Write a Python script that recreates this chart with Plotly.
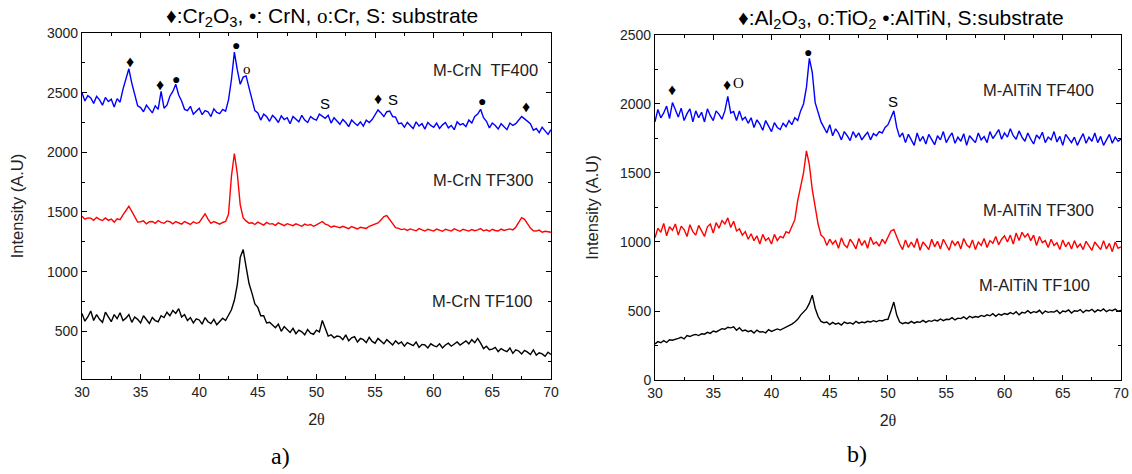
import plotly.graph_objects as go

# ---------------- data ----------------
two_theta = [round(30 + 0.25 * i, 2) for i in range(161)]

crn_tf400 = [
    2500, 2430, 2475, 2455, 2410, 2470, 2440, 2395,
    2460, 2425, 2445, 2380, 2450, 2420, 2530, 2610,
    2700, 2580, 2490, 2390, 2375, 2340, 2395, 2360,
    2330, 2390, 2360, 2510, 2370, 2395, 2470, 2510,
    2570, 2480, 2430, 2360, 2350, 2385, 2320, 2345,
    2370, 2315, 2350, 2340, 2300, 2365, 2335, 2325,
    2360, 2345, 2440, 2610, 2840, 2690, 2570, 2630,
    2640, 2540, 2440, 2350, 2330, 2270, 2320, 2300,
    2260, 2310, 2285, 2250, 2305, 2275, 2290, 2240,
    2300, 2280, 2255, 2310, 2270, 2250, 2300, 2280,
    2270, 2320, 2300, 2285, 2310, 2245, 2290, 2260,
    2235, 2275, 2250, 2215, 2270, 2245, 2225, 2255,
    2220, 2270, 2250, 2275, 2310, 2355, 2330, 2300,
    2340, 2345, 2300, 2295, 2240, 2245, 2210, 2250,
    2225, 2200, 2255, 2220, 2240, 2195, 2250, 2225,
    2210, 2245, 2200, 2230, 2250, 2205, 2225, 2190,
    2255, 2230, 2240, 2215, 2270, 2245, 2300, 2320,
    2360, 2290, 2260, 2205, 2245, 2225, 2195, 2240,
    2215, 2190, 2245, 2225, 2240, 2270, 2300, 2280,
    2260, 2240, 2185, 2200, 2165, 2210, 2180, 2150,
    2190,
]

crn_tf300 = [
    1465, 1440, 1450, 1448, 1430, 1455, 1438, 1428,
    1450, 1430, 1440, 1415, 1442, 1435, 1475, 1515,
    1548, 1505, 1455, 1415, 1418, 1425, 1400, 1418,
    1420, 1405, 1428, 1412, 1405, 1425, 1418, 1400,
    1420, 1408, 1398, 1420, 1410, 1395, 1418, 1405,
    1412, 1445, 1485, 1440, 1405, 1420, 1410, 1398,
    1412, 1420, 1480, 1800, 1990, 1820, 1560, 1450,
    1425, 1405, 1410, 1395, 1415, 1400, 1390, 1412,
    1398, 1402, 1388, 1408, 1395, 1385, 1402, 1390,
    1385, 1400, 1392, 1380, 1398, 1388, 1395, 1380,
    1392, 1405, 1420, 1398, 1390, 1372, 1382, 1375,
    1368, 1380, 1372, 1360, 1378, 1365, 1358, 1372,
    1365, 1362, 1380, 1388, 1402, 1408, 1432, 1462,
    1470, 1438, 1398, 1368, 1362, 1352, 1358, 1345,
    1358, 1350, 1342, 1360, 1348, 1340, 1355, 1346,
    1340, 1356, 1348, 1338, 1355, 1345, 1340, 1358,
    1346, 1338, 1355, 1348, 1340, 1352, 1343, 1350,
    1360, 1342, 1350, 1338, 1355, 1345, 1340, 1356,
    1345, 1352, 1358, 1350, 1372, 1412, 1452, 1438,
    1398, 1365, 1342, 1340, 1348, 1330, 1338, 1332,
    1330,
]

crn_tf100 = [
    650, 585, 620, 670, 590, 640, 600, 575,
    660, 615, 580, 640, 605, 655, 590, 610,
    640, 575, 620, 600, 570, 630, 595, 565,
    615, 590, 580, 630, 615, 660, 630, 675,
    650, 690, 620, 640, 590, 615, 570, 605,
    595, 560, 615, 580, 565, 600, 555, 585,
    610, 590, 640, 680, 760, 890, 1120, 1185,
    1040, 900, 820, 730, 700, 630, 630, 570,
    575, 555, 530, 560, 500, 540, 515, 490,
    525, 480, 510, 495, 470, 515, 485, 475,
    510, 495, 590, 530, 460, 470, 445, 460,
    455, 430, 470, 420, 445, 455, 410, 440,
    430, 405, 450, 415, 400, 440, 420, 395,
    430, 405, 385, 420, 395, 410, 375, 405,
    395, 380, 410, 365, 390, 385, 360, 395,
    380, 370, 395, 360, 385, 400, 375, 390,
    410, 385, 400, 420, 395, 430, 405, 440,
    400, 355, 375, 345, 350, 365, 330, 355,
    340, 330, 360, 315, 345, 335, 310, 340,
    325, 305, 345, 300, 320, 310, 290, 325,
    305,
]

altin_tf400 = [
    1870, 1960, 1900, 1935, 1985, 1895, 2010, 1950,
    1905, 1970, 1880, 1930, 1965, 1870, 1950, 1900,
    1940, 1870, 1965, 1915, 1880, 1950, 1925, 1890,
    1950, 2055, 1935, 1945, 1880, 1950, 1885, 1905,
    1860, 1900, 1830, 1885, 1855, 1810, 1880, 1840,
    1800, 1865, 1830, 1815, 1860, 1835, 1880, 1850,
    1900, 1880, 1950, 2000, 2120, 2330, 2230, 2010,
    1930, 1870, 1830, 1790, 1850, 1770, 1820, 1790,
    1740, 1800, 1770, 1735, 1800, 1760, 1790, 1740,
    1770, 1795, 1740, 1785, 1770, 1800, 1790, 1830,
    1850, 1900, 1950, 1830, 1760, 1790, 1720, 1780,
    1740, 1700, 1790, 1730, 1765, 1710, 1780, 1745,
    1705, 1770, 1740, 1800, 1720, 1760, 1790, 1715,
    1760, 1730, 1785, 1700, 1770, 1745, 1720, 1790,
    1740, 1765, 1720, 1800, 1750, 1780, 1815, 1745,
    1790, 1760, 1820, 1770, 1745, 1805, 1760, 1730,
    1790, 1745, 1710, 1775, 1750, 1795, 1720, 1760,
    1740, 1800, 1725, 1765, 1700, 1780, 1750, 1720,
    1760, 1700, 1745, 1785, 1715, 1760, 1730, 1790,
    1720, 1765, 1700, 1740, 1780, 1715, 1760, 1730,
    1745,
]

altin_tf300 = [
    1030, 1100, 1070, 1135, 1045, 1110, 1085, 1130,
    1050, 1115, 1090, 1040, 1125, 1075, 1050, 1120,
    1080, 1040, 1110, 1130, 1065, 1140, 1100, 1155,
    1130, 1175, 1105, 1150, 1080, 1095, 1050, 1075,
    1020, 1060, 1010, 1045, 985, 1055, 1010, 1030,
    985, 1055, 1010, 1040, 1030, 1075, 1065, 1110,
    1160, 1300, 1390, 1500, 1660, 1560, 1380, 1260,
    1130, 1050, 1030, 975, 1020, 985, 1010, 955,
    1030, 980, 960, 1020, 990, 950, 1025, 975,
    1010, 955, 1035, 985, 1000, 970, 1020, 990,
    1040, 1080, 1090, 1030, 985, 945, 1015, 960,
    1000, 960, 1025, 940, 1000, 975, 945, 1020,
    965, 1005, 950, 1020, 985, 940, 1010, 975,
    1005, 950, 1025, 980, 960, 1015, 945, 1000,
    975, 1025, 960, 1010, 990, 1040, 980, 1020,
    1045, 1000, 1050, 985, 1065, 1010, 1070, 1035,
    1060, 1010, 1050, 975, 1040, 995, 1010, 960,
    1020, 975, 995, 945, 1015, 965, 1000, 950,
    1010, 960, 985, 945, 1005, 970, 940, 1000,
    975, 945, 1010, 950, 990, 930, 1000, 955,
    965,
]

altin_tf100 = [
    262, 278, 270, 285, 272, 292, 288, 298,
    302, 310, 298, 322, 315, 325, 330, 322,
    335, 332, 345, 338, 355, 348, 362, 372,
    368, 382, 378, 385, 360, 378, 355, 362,
    350, 358, 340, 362, 348, 350, 342, 365,
    352, 360, 370, 362, 372, 380, 395, 405,
    420, 440, 470, 490, 515, 555, 615, 520,
    460, 425, 415, 420, 402, 418, 405, 412,
    398, 420, 410, 415, 405, 425, 412, 420,
    415, 425, 420, 430, 422, 432, 428, 438,
    440, 500, 565, 470, 420, 408, 416, 410,
    425, 412, 422, 418, 432, 418, 430, 425,
    435, 428, 442, 430, 440, 438, 452, 435,
    448, 445, 458, 442, 462, 452, 460, 455,
    468, 460, 472, 465, 480, 462, 478, 470,
    482, 475, 488, 478, 495, 472, 490, 485,
    502, 485, 495, 490, 505, 480, 500, 490,
    495, 492, 505, 482, 500, 495, 508, 485,
    502, 498, 510, 488, 505, 500, 512, 492,
    508, 500, 515, 495, 508, 502, 514, 498,
    505,
]

# peak markers: (symbol, 2theta, intensity)
crn_marks = [
    ("♦", 34.1, 2757), ("♦", 36.65, 2565), ("●", 38.0, 2615),
    ("●", 43.13, 2900), ("ο", 44.1, 2697), ("S", 50.72, 2412),
    ("♦", 55.27, 2448), ("S", 56.55, 2440), ("●", 64.09, 2426),
    ("♦", 67.84, 2384),
]
altin_marks = [
    ("♦", 31.43, 2106), ("♦", 36.15, 2138), ("O", 37.2, 2150),
    ("●", 43.16, 2374), ("S", 50.45, 2017),
]

# series labels: (text, right-edge 2theta, intensity)
crn_labels = [("M-CrN  TF400", 69.05, 2691), ("M-CrN TF300", 68.75, 1771), ("M-CrN TF100", 68.65, 751)]
altin_labels = [("M-AlTiN TF400", 67.85, 2101), ("M-AlTiN TF300", 67.85, 1232), ("M-AlTiN TF100", 67.5, 688)]

# ---------------- figure ----------------
SANS = "Arial, Liberation Sans, sans-serif"
SERIF = "Times New Roman, Liberation Serif, serif"
W, H = 1132, 474

fig = go.Figure()

for vals, col in [(crn_tf400, "#0000ff"), (crn_tf300, "#ff0000"), (crn_tf100, "#000000")]:
    fig.add_trace(go.Scatter(x=two_theta, y=vals, mode="lines",
                             line=dict(color=col, width=1.4), xaxis="x", yaxis="y",
                             showlegend=False, hoverinfo="skip"))
for vals, col in [(altin_tf400, "#0000ff"), (altin_tf300, "#ff0000"), (altin_tf100, "#000000")]:
    fig.add_trace(go.Scatter(x=two_theta, y=vals, mode="lines",
                             line=dict(color=col, width=1.4), xaxis="x2", yaxis="y2",
                             showlegend=False, hoverinfo="skip"))


def axis_common():
    return dict(showline=True, linecolor="black", linewidth=1, mirror="ticks",
                ticks="inside", ticklen=5, tickwidth=1, tickcolor="black",
                showgrid=False, zeroline=False, automargin=False,
                tickfont=dict(family=SANS, size=14, color="#222"))


xa = axis_common()
xa.update(range=[30, 70], dtick=5, tick0=30,
          minor=dict(ticks="inside", ticklen=3, dtick=2.5, tickcolor="black", showgrid=False),
          title=dict(text="2<span style='font-family:Liberation Serif'>θ</span>",
                     font=dict(family=SANS, size=16, color="#222"), standoff=14))

ya1 = axis_common()
ya1.update(range=[100, 3000], dtick=500, tick0=0,
           minor=dict(ticks="inside", ticklen=3, dtick=250, tickcolor="black", showgrid=False),
           title=dict(text="Intensity (A.U)", font=dict(family=SANS, size=16.5, color="#222"),
                      standoff=19))
ya2 = axis_common()
ya2.update(range=[0, 2500], dtick=500, tick0=0,
           minor=dict(ticks="inside", ticklen=3, dtick=250, tickcolor="black", showgrid=False),
           title=dict(text="Intensity (A.U)", font=dict(family=SANS, size=16.5, color="#222"),
                      standoff=17))

xa1 = dict(xa, domain=[0.0724, 0.4867], anchor="y")
xa2 = dict(xa, domain=[0.5786, 0.9903], anchor="y2")
ya1.update(domain=[0.2004, 0.9304], anchor="x")
ya2.update(domain=[0.1983, 0.9262], anchor="x2")

annotations = []


def mark_font(sym):
    fam = SERIF if sym in ("ο", "O") else SANS
    size = 16 if sym == "♦" else (14 if sym == "●" else 15)
    return dict(family=fam, size=size, color="black")


for sym, xv, yv in crn_marks:
    annotations.append(dict(x=xv, y=yv, xref="x", yref="y", text=sym, showarrow=False,
                            xanchor="center", yanchor="middle", font=mark_font(sym)))
for sym, xv, yv in altin_marks:
    annotations.append(dict(x=xv, y=yv, xref="x2", yref="y2", text=sym, showarrow=False,
                            xanchor="center", yanchor="middle", font=mark_font(sym)))
for txt, xv, yv in crn_labels:
    annotations.append(dict(x=xv, y=yv, xref="x", yref="y", text=txt, showarrow=False,
                            xanchor="right", yanchor="middle",
                            font=dict(family=SANS, size=16.5, color="#222")))
for txt, xv, yv in altin_labels:
    annotations.append(dict(x=xv, y=yv, xref="x2", yref="y2", text=txt, showarrow=False,
                            xanchor="right", yanchor="middle",
                            font=dict(family=SANS, size=16.5, color="#222")))

# panel titles and captions (pixel positions converted to paper fractions)
paper_texts = [
    (322, 17, "♦:Cr<sub>2</sub>O<sub>3</sub>, •: CrN, <span style='font-family:Liberation Serif'>ο</span>:Cr, S: substrate",
     SANS, 21),
    (901, 19, "♦:Al<sub>2</sub>O<sub>3</sub>, o:TiO<sub>2</sub> •:AlTiN, S:substrate", SANS, 21),
    (280, 456, "a)", SERIF, 24),
    (857, 454, "b)", SERIF, 24),
]
for px, py, txt, fam, size in paper_texts:
    annotations.append(dict(x=px / W, y=1 - py / H, xref="paper", yref="paper", showarrow=False,
                            xanchor="center", yanchor="middle", text=txt,
                            font=dict(family=fam, size=size, color="black")))

fig.update_layout(
    width=W, height=H, margin=dict(l=0, r=0, t=0, b=0),
    paper_bgcolor="white", plot_bgcolor="white",
    xaxis=xa1, yaxis=ya1, xaxis2=xa2, yaxis2=ya2,
    annotations=annotations, showlegend=False,
)

fig.write_html("out.html")
